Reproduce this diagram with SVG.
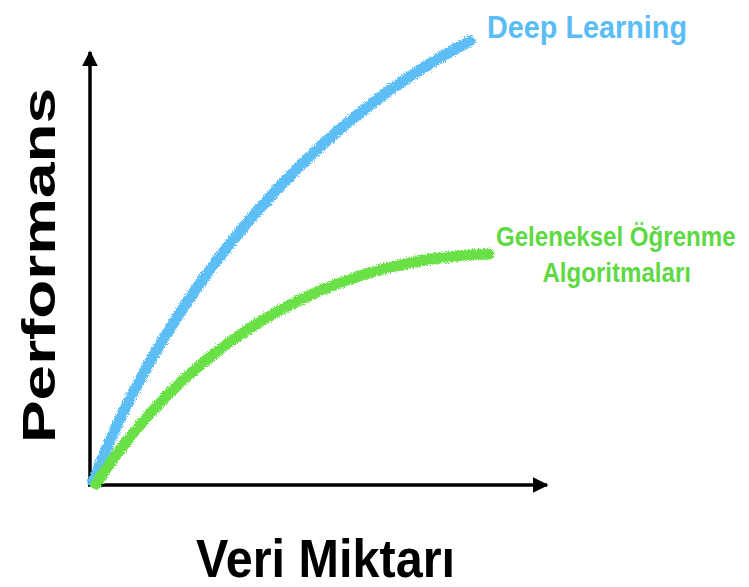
<svg xmlns="http://www.w3.org/2000/svg" width="749" height="587" viewBox="0 0 749 587">
  <style>
    .axis { stroke: #000; stroke-width: 3.5; fill: none; }
    .curve { fill: none; stroke-width: 11; stroke-linecap: round; filter: url(#crayon); }
    .label { font-family: "Liberation Sans", Arial, sans-serif; font-weight: bold; }
  </style>
  <defs>
    <marker id="arrow" viewBox="0 0 10 10" refX="9" refY="5" markerWidth="4.5" markerHeight="4.5" markerUnits="strokeWidth" orient="auto">
      <path d="M0,0 L10,5 L0,10 Z" fill="#000"/>
    </marker>
    <!-- rough chalk-like edge for the hand-drawn curves -->
    <filter id="crayon" x="-10%" y="-10%" width="120%" height="120%">
      <feTurbulence type="fractalNoise" baseFrequency="0.9" numOctaves="2" seed="3" result="noise"/>
      <feDisplacementMap in="SourceGraphic" in2="noise" scale="6" xChannelSelector="R" yChannelSelector="G"/>
    </filter>
  </defs>

  <g id="connectors">
    <line id="y-axis" class="axis" x1="90" y1="486" x2="90" y2="52" marker-end="url(#arrow)"/>
    <line id="x-axis" class="axis" x1="88" y1="485" x2="547" y2="485" marker-end="url(#arrow)"/>
  </g>

  <g id="deep-learning">
    <path class="curve" stroke="#5BBEF5" d="M93,482 C150,330 280,140 470,41"/>
    <text class="label" x="487" y="38" font-size="32" fill="#5ABDF6" textLength="200" lengthAdjust="spacingAndGlyphs" style="font-weight:600">Deep Learning</text>
  </g>

  <g id="traditional">
    <path class="curve" stroke="#6BE046" d="M96,484 C170,370 300,260 489,254"/>
    <!-- condensed two-line label -->
    <g transform="translate(496,246) scale(0.86,1)">
      <text class="label" x="0" y="0" font-size="28" fill="#5ED843" style="font-weight:600">Geleneksel Öğrenme</text>
      <text class="label" x="54" y="36" font-size="28" fill="#5ED843" style="font-weight:600">Algoritmaları</text>
    </g>
  </g>

  <g id="axis-labels">
    <text class="label" x="196" y="577" font-size="54" fill="#000" textLength="259" lengthAdjust="spacingAndGlyphs">Veri Miktarı</text>
    <text class="label" transform="translate(55,443) rotate(-90)" x="0" y="0" font-size="46" fill="#000" textLength="355" lengthAdjust="spacingAndGlyphs">Performans</text>
  </g>
</svg>
